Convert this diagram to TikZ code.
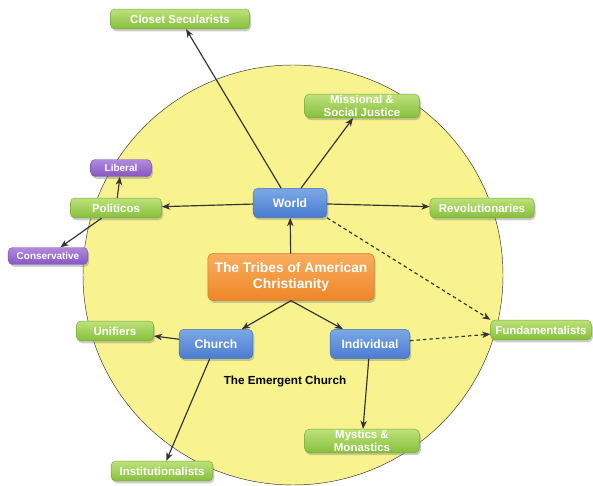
\documentclass[tikz,border=0pt]{standalone}
\usepackage{fontspec}
\setmainfont{Liberation Sans}
\usetikzlibrary{
	arrows.meta,
	shadows,
	positioning
}
\definecolor{circfill}{HTML}{F9F38F}
\definecolor{linegray}{HTML}{333333}
\definecolor{greentop}{HTML}{BDE27A}
\definecolor{greenbot}{HTML}{86BF3C}
\definecolor{greenline}{HTML}{78A83A}
\definecolor{bluetop}{HTML}{7BA9E6}
\definecolor{bluebot}{HTML}{4A7BCF}
\definecolor{blueline}{HTML}{4570B8}
\definecolor{orangetop}{HTML}{F9AE5E}
\definecolor{orangebot}{HTML}{EE8628}
\definecolor{orangeline}{HTML}{D27424}
\definecolor{purpletop}{HTML}{B08ADD}
\definecolor{purplebot}{HTML}{8657C2}
\definecolor{purpleline}{HTML}{7350A8}
\tikzset{
%Define standard arrow tip
>={Stealth[length=7pt,width=5.5pt,inset=2pt]},
%Define base style for boxes
box/.style={
	rectangle,
	rounded corners=4pt,
	draw, thin,
	text=white,
	font=\fontsize{9.8}{11}\selectfont\bfseries,
	align=center,
	inner sep=1pt,
	drop shadow={opacity=0.4, shadow xshift=1.2pt, shadow yshift=-2pt}},
%Define style for outer tribes
tribe/.style={
	box,
	draw=greenline,
	top color=greentop, bottom color=greenbot,
	minimum height=17pt},
%Define style for middle boxes
hub/.style={
	box,
	draw=blueline,
	top color=bluetop, bottom color=bluebot,
	minimum width=63pt,
	minimum height=25pt,
	font=\fontsize{10.4}{12}\selectfont\bfseries},
%Define style for the centre box
root/.style={
	box,
	draw=orangeline,
	top color=orangetop, bottom color=orangebot,
	minimum width=142pt,
	minimum height=40pt,
	font=\fontsize{11.8}{14}\selectfont\bfseries},
%Define style for politics boxes
side/.style={
	box,
	draw=purpleline,
	top color=purpletop, bottom color=purplebot,
	font=\fontsize{8.5}{10}\selectfont\bfseries,
	minimum height=14.5pt},
% Define arrow style
pil/.style={
	->,
	draw=linegray,
	line width=1pt},
dashpil/.style={
	pil,
	dash pattern=on 3pt off 2.5pt}
}
\begin{document}
\begin{tikzpicture}[x=0.03cm,y=-0.03cm]
	\useasboundingbox (0,0) rectangle (593,486);
	% the big circle behind everything
	\fill[circfill, draw=linegray, thin] (293,275) circle (210);
	\node[root] (tribes) at (291,277) {The Tribes of American\\Christianity};
	\node[hub] (world) at (290,203) {World};
	\node[hub] (church) at (216,344) {Church};
	\node[hub, minimum width=68pt] (individual) at (370,344) {Individual};
	\node[font=\fontsize{10}{12}\selectfont\bfseries] (emergent) at (285,381) {The Emergent Church};
	\node[tribe, minimum width=119pt] (closet) at (180,19) {Closet Secularists};
	\node[tribe, minimum width=98pt] (missional) at (362,106) {Missional \&\\Social Justice};
	\node[tribe, minimum width=78pt] (politicos) at (116,208) {Politicos};
	\node[tribe, minimum width=89pt] (revolution) at (482,208) {Revolutionaries};
	\node[tribe, minimum width=86pt] (fundament) at (541,330) {Fundamentalists};
	\node[tribe, minimum width=66pt] (unifiers) at (115,331) {Unifiers};
	\node[tribe, minimum width=98pt] (mystics) at (362,441) {Mystics \&\\Monastics};
	\node[tribe, minimum width=87pt] (institution) at (162,471) {Institutionalists};
	\node[side, minimum width=52pt] (liberal) at (121,168) {Liberal};
	\node[side, minimum width=68pt] (conservative) at (48,256) {Conservative};
	% connectors
	\draw[pil] (tribes) -- (world);
	\draw[pil] (tribes.south) -- (church);
	\draw[pil] (tribes.south) -- (individual);
	\draw[pil] (world) -- (closet);
	\draw[pil] (world) -- (missional);
	\draw[pil] (world) -- (politicos);
	\draw[pil] (world) -- (revolution);
	\draw[dashpil] (world.south east) -- (fundament.north west);
	\draw[pil] (politicos) -- (liberal);
	\draw[pil] (politicos) -- (conservative);
	\draw[pil] (church) -- (unifiers);
	\draw[pil] (church) -- (institution);
	\draw[pil] (individual) -- (mystics);
	\draw[dashpil] (individual) -- (fundament);
\end{tikzpicture}
\end{document}
